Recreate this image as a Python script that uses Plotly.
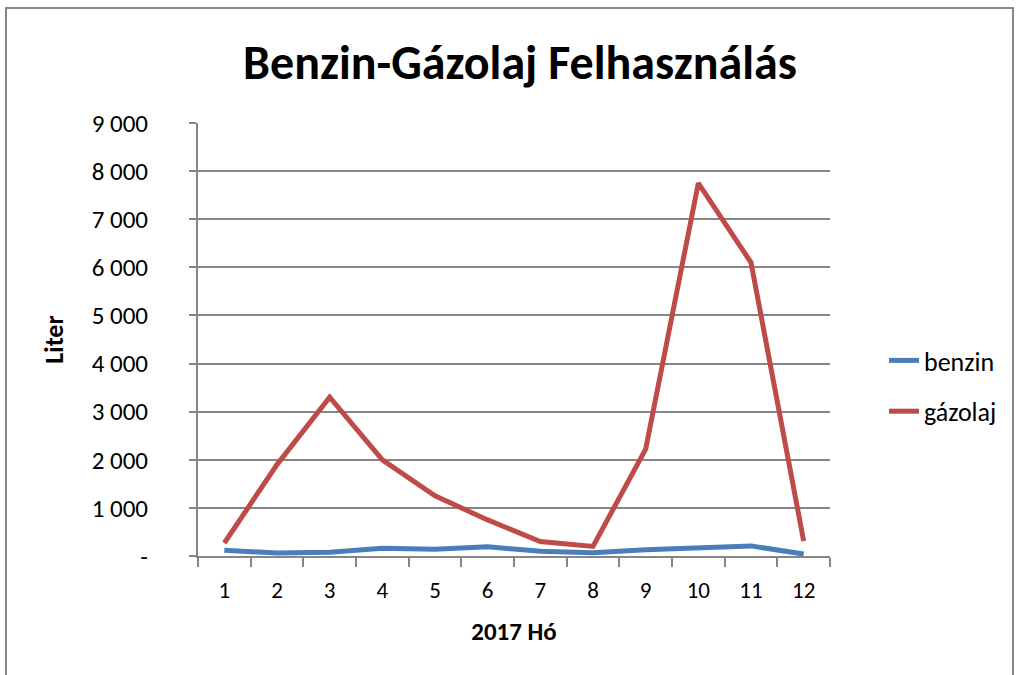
import plotly.graph_objects as go

months = ["1", "2", "3", "4", "5", "6", "7", "8", "9", "10", "11", "12"]
benzin = [120, 60, 80, 160, 140, 190, 100, 70, 130, 180, 210, 40]
gazolaj = [270, 1900, 3300, 2000, 1250, 750, 300, 200, 2220, 7750, 6100, 310]
y_ticks = [0, 1000, 2000, 3000, 4000, 5000, 6000, 7000, 8000, 9000]
y_labels = ["-", "1 000", "2 000", "3 000", "4 000", "5 000", "6 000", "7 000", "8 000", "9 000"]

FONT = "Carlito, Lato, 'Open Sans', sans-serif"

fig = go.Figure()
fig.add_trace(go.Scatter(x=months, y=benzin, mode="lines", name="benzin", legendgroup="a",
                         line=dict(color="#4A7EBB", width=5)))
fig.add_trace(go.Scatter(x=months, y=gazolaj, mode="lines", name="gázolaj", legendgroup="b",
                         line=dict(color="#BE4B48", width=5)))

L, R, T, B = 198, 830, 123, 556
W, H = 1019, 675
pw, ph = R - L, B - T

fig.update_layout(
    width=W, height=H,
    margin=dict(l=L, r=W - R, t=T, b=H - B),
    paper_bgcolor="white", plot_bgcolor="white",
    font=dict(family=FONT, color="#000000", size=23),
    title=dict(text="<b>Benzin-Gázolaj Felhasználás</b>", x=520 / W, xanchor="center",
               y=1 - 62 / H, yanchor="middle", font=dict(size=48, family=FONT)),
    showlegend=True,
    legend=dict(x=(884 - L) / pw, xanchor="left", y=(B - 386) / ph, yanchor="middle",
                font=dict(size=26, family=FONT), tracegroupgap=14, itemwidth=30,
                bgcolor="rgba(0,0,0,0)"),
    xaxis=dict(type="category", tickson="boundaries", ticks="outside", ticklen=9,
               tickcolor="#868686", tickwidth=2, showline=True, linecolor="#868686",
               linewidth=2, showgrid=False, tickfont=dict(size=23), ticklabelstandoff=12,
               title=dict(text="<b>2017 Hó</b>", font=dict(size=25), standoff=20),
               range=[-0.5, 11.5]),
    yaxis=dict(range=[0, 9000], tickvals=y_ticks, ticktext=y_labels, ticks="outside",
               ticklen=7, tickcolor="#868686", tickwidth=2, showline=True,
               linecolor="#868686", linewidth=2, showgrid=True, gridcolor="#868686",
               gridwidth=2, zeroline=False, tickfont=dict(size=25), ticklabelstandoff=36,
               title=dict(text="<b>Liter</b>", font=dict(size=26), standoff=21)),
)

fig.add_shape(type="rect", xref="paper", yref="paper",
              x0=(6 - L) / pw, x1=(1013 - L) / pw, y0=(B - 690) / ph, y1=(B - 8) / ph,
              line=dict(color="#868686", width=2), fillcolor="rgba(0,0,0,0)", layer="below")

fig.write_html("out.html", config={"displayModeBar": False},
               post_script="document.body.style.margin='0';")
